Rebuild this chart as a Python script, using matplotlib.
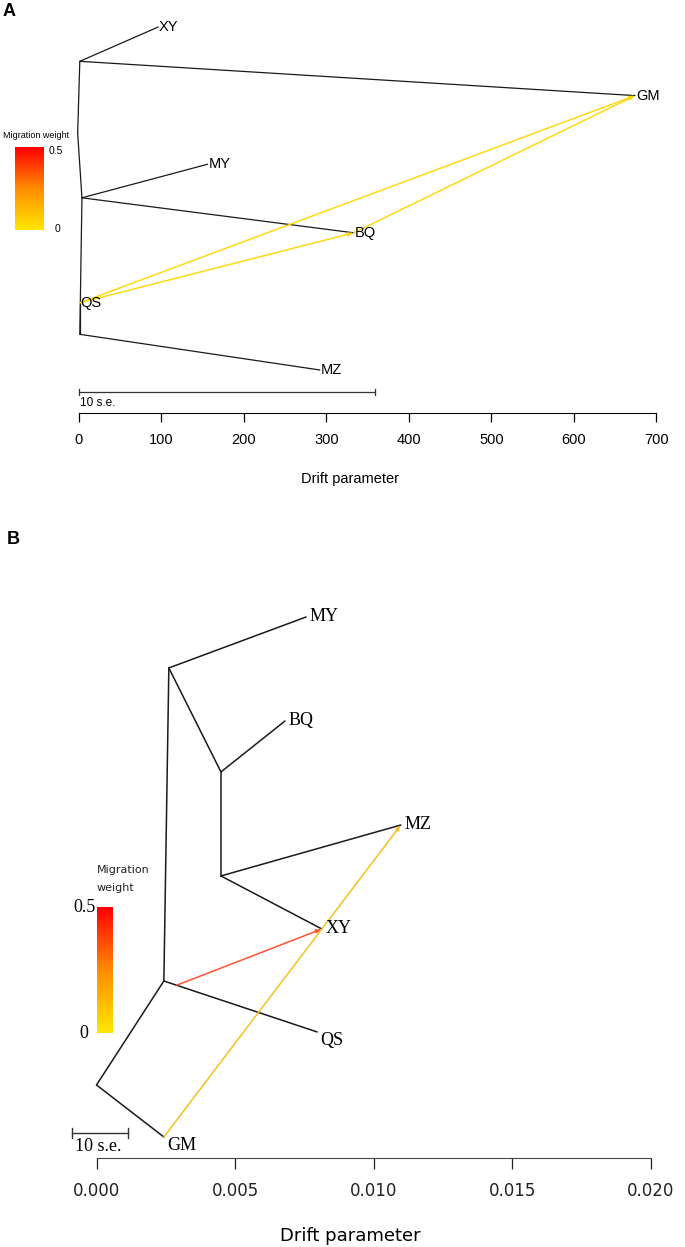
import numpy as np
import matplotlib.pyplot as plt
from matplotlib.colors import LinearSegmentedColormap

# ---- panel A: treemix tree (x = drift, y = tip row) ----
a_tips = ["XY", "GM", "MY", "BQ", "QS", "MZ"]
a_tip_x = [96, 674, 156, 333, 1, 292]
a_tip_y = [1, 2, 3, 4, 5.02, 6]
a_node_names = ["root", "n1", "n2", "n3"]
a_node_x = [-1.6, 1, 3.6, 1]
a_node_y = [2.55, 1.5, 3.49, 5.48]
a_edges = [("root", "n1"), ("root", "n2"), ("n2", "n3"), ("n1", "XY"), ("n1", "GM"),
           ("n2", "MY"), ("n2", "BQ"), ("n3", "QS"), ("n3", "MZ")]
a_mig = [("QS", "GM"), ("QS", "BQ"), ("BQ", "GM")]
a_mig_col = ["#FFD700", "#FFD700", "#FFD700"]
a_ticks = [0, 100, 200, 300, 400, 500, 600, 700]
a_se = [0, 359]

# ---- panel B ----
b_tips = ["MY", "BQ", "MZ", "XY", "QS", "GM"]
b_tip_x = [0.00756, 0.00680, 0.01098, 0.00813, 0.00796, 0.00243]
b_tip_y = [1, 2, 3, 4, 4.99, 6]
b_node_names = ["n1", "n2", "n3", "n4", "root", "m1"]
b_node_x = [0.00261, 0.00449, 0.00449, 0.00243, 0.0, 0.0029]
b_node_y = [1.49, 2.49, 3.49, 4.5, 5.5, 4.54]
b_edges = [("root", "n4"), ("root", "GM"), ("n4", "n1"), ("n4", "QS"), ("n1", "MY"),
           ("n1", "n2"), ("n2", "BQ"), ("n2", "n3"), ("n3", "MZ"), ("n3", "XY")]
b_mig = [("m1", "XY"), ("GM", "MZ")]
b_mig_col = ["#FF5433", "#F2C21E"]
b_ticks = [0.000, 0.005, 0.010, 0.015, 0.020]
b_se = [-0.00089, 0.00114]

W, H = 685, 1247
fig = plt.figure(figsize=(W / 100, H / 100), dpi=100)
cmap = LinearSegmentedColormap.from_list("mig", ["#FFE600", "#FF8C00", "#FF0000"])


def fx(x):
    return x / W


def fy(y):
    return 1 - y / H


def draw_tree(ax, tips, tx, ty, nn, nx, ny, edges, lw):
    pos = {n: (x, y) for n, x, y in zip(nn, nx, ny)}
    pos.update({n: (x, y) for n, x, y in zip(tips, tx, ty)})
    for a, b in edges:
        ax.plot([pos[a][0], pos[b][0]], [pos[a][1], pos[b][1]], color="#1a1a1a", lw=lw,
                solid_capstyle="round")
    return pos


def draw_mig(ax, pos, mig, cols, lw):
    for (a, b), c in zip(mig, cols):
        ax.annotate("", xy=pos[b], xytext=pos[a],
                    arrowprops=dict(arrowstyle="-|>,head_length=0.3,head_width=0.1",
                                    color=c, lw=lw, shrinkA=0, shrinkB=0))


def style_axis(ax, xmin, xmax):
    for s in ["left", "top", "right"]:
        ax.spines[s].set_visible(False)
    ax.spines["bottom"].set_bounds(xmin, xmax)
    ax.set_yticks([])
    ax.patch.set_alpha(0)


# ================= panel A =================
axA = fig.add_axes([fx(20), fy(413), fx(660), (413 - 5) / H])
posA = draw_tree(axA, a_tips, a_tip_x, a_tip_y, a_node_names, a_node_x, a_node_y, a_edges, 0.9)
draw_mig(axA, posA, a_mig, a_mig_col, 1.0)
for n, x, y in zip(a_tips, a_tip_x, a_tip_y):
    axA.text(x + 1, y, n, fontsize=10.5, family="Liberation Sans", va="center", ha="left")
axA.set_xlim(-71.5, 728.5)
axA.set_ylim(6.627, 0.679)
style_axis(axA, 0, 700)
axA.set_xticks(a_ticks)
axA.tick_params(axis="x", length=6.5, width=0.9, pad=8, labelsize=10.5)
for t in axA.get_xticklabels():
    t.set_family("Liberation Sans")
axA.set_xlabel("Drift parameter", fontsize=10.5, family="Liberation Sans", labelpad=18)
# scale bar
yb = 6.32
axA.plot(a_se, [yb, yb], color="#333333", lw=0.9)
for xe in a_se:
    axA.plot([xe, xe], [yb - 0.05, yb + 0.05], color="#333333", lw=0.9)
axA.text(a_se[0] + 1, yb + 0.07, "10 s.e.", fontsize=8.5, family="Liberation Sans", va="top", ha="left")

# legend A
cbA = fig.add_axes([fx(15), fy(230), fx(29), 83 / H])
cbA.imshow(np.linspace(1, 0, 100)[:, None], aspect="auto", cmap=cmap)
cbA.axis("off")
fig.text(fx(3), fy(136), "Migration weight", fontsize=6.5, family="Liberation Sans", va="center")
fig.text(fx(49), fy(151), "0.5", fontsize=7.5, family="Liberation Sans", va="center")
fig.text(fx(55), fy(229), "0", fontsize=7.5, family="Liberation Sans", va="center")
fig.text(fx(3), fy(12), "A", fontsize=13, weight="bold", family="Liberation Sans", va="center")

# ================= panel B =================
axB = fig.add_axes([fx(20), fy(1158), fx(660), (1158 - 555) / H])
posB = draw_tree(axB, b_tips, b_tip_x, b_tip_y, b_node_names, b_node_x, b_node_y, b_edges, 1.1)
draw_mig(axB, posB, b_mig, b_mig_col, 1.1)
for n, x, y in zip(b_tips, b_tip_x, b_tip_y):
    dy = 0.08 if n in ("QS", "GM") else 0.0
    axB.text(x + 0.00012, y + dy, n, fontsize=13, family="Liberation Serif", va="center", ha="left")
axB.set_xlim(-0.00276, 0.02105)
axB.set_ylim(6.202, 0.404)
style_axis(axB, 0, 0.02)
axB.set_xticks(b_ticks)
axB.set_xticklabels(["%.3f" % t for t in b_ticks])
axB.tick_params(axis="x", length=8, width=0.9, pad=9, labelsize=12, colors="#222222")
axB.spines["bottom"].set_color("#444444")
axB.set_xlabel("Drift parameter", fontsize=13, labelpad=20)
yb = 5.96
axB.plot(b_se, [yb, yb], color="#333333", lw=1)
for xe in b_se:
    axB.plot([xe, xe], [yb - 0.05, yb + 0.05], color="#333333", lw=1)
axB.text(b_se[0] + 0.0001, yb + 0.05, "10 s.e.", fontsize=13, family="Liberation Serif", va="top", ha="left")

# legend B
cbB = fig.add_axes([fx(97), fy(1033), fx(16), (1033 - 907) / H])
cbB.imshow(np.linspace(1, 0, 100)[:, None], aspect="auto", cmap=cmap)
cbB.axis("off")
fig.text(fx(97), fy(870), "Migration", fontsize=8, va="center", color="#222222")
fig.text(fx(97), fy(888), "weight", fontsize=8, va="center", color="#222222")
fig.text(fx(96), fy(907), "0.5", fontsize=13, family="Liberation Serif", va="center", ha="right")
fig.text(fx(88), fy(1033), "0", fontsize=13, family="Liberation Serif", va="center", ha="right")
fig.text(fx(7), fy(539), "B", fontsize=13, weight="bold", family="Liberation Sans", va="center")

fig.savefig("out.png", dpi=100)
